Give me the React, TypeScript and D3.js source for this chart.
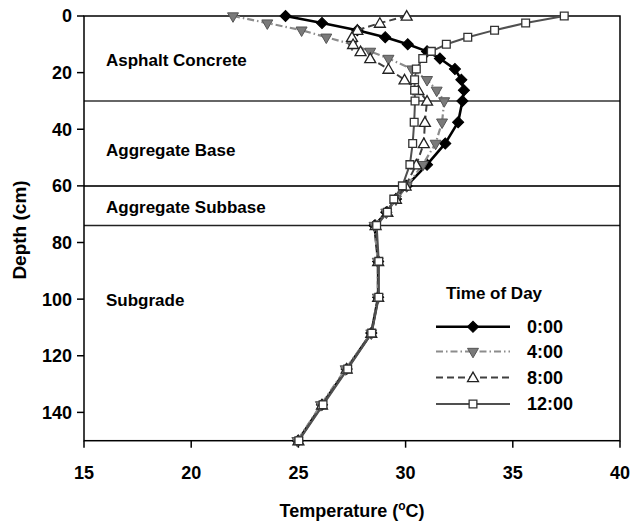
import React from "react";
import * as d3 from "d3";

// Depth nodes (cm) through the pavement profile
const DEPTHS = [
  0, 2.5, 5, 7.5, 10, 12.5, 15, 18.75, 22.5, 26.25, 30,
  37.5, 45, 52.5, 60,
  64.67, 69.33, 74,
  86.67, 99.33, 112, 124.67, 137.33, 150,
];

// Temperatures (°C) at each depth node, by time of day
const T_0000 = [
  24.4, 26.1, 27.75, 29.05, 30.1, 31.0, 31.6, 32.3, 32.6, 32.72, 32.65,
  32.45, 31.85, 31.0, 30.05,
  29.55, 29.1, 28.55,
  28.72, 28.72, 28.4, 27.25, 26.1, 24.98,
];
const T_0400 = [
  21.95, 23.55, 25.15, 26.3, 27.5, 28.35, 29.2, 30.3, 31.0, 31.45, 31.8,
  31.7, 31.4, 30.8, 30.05,
  29.55, 29.1, 28.55,
  28.7, 28.7, 28.4, 27.2, 26.05, 24.95,
];
const T_0800 = [
  30.05, 28.8, 27.75, 27.5, 27.55, 27.9, 28.35, 29.2, 29.95, 30.6, 31.0,
  30.9, 30.85, 30.5, 30.0,
  29.55, 29.15, 28.6,
  28.72, 28.72, 28.4, 27.25, 26.1, 25.0,
];
const T_1200 = [
  37.4, 35.6, 34.15, 32.9, 31.9, 31.2, 30.8, 30.5, 30.42, 30.42, 30.44,
  30.4, 30.33, 30.2, 29.85,
  29.45, 29.15, 28.65,
  28.75, 28.75, 28.42, 27.3, 26.15, 25.02,
];

const SERIES_NAMES = ["0:00", "4:00", "8:00", "12:00"];
const SERIES_VALUES = [T_0000, T_0400, T_0800, T_1200];

const X_TICKS = [15, 20, 25, 30, 35, 40];
const Y_TICKS = [0, 20, 40, 60, 80, 100, 120, 140];

// Layer boundaries (cm) and layer names
const LAYER_BOUNDS = [30, 60, 74];
const LAYER_NAMES = ["Asphalt Concrete", "Aggregate Base", "Aggregate Subbase", "Subgrade"];
const LAYER_LABEL_DEPTHS = [15.5, 47.5, 67.5, 100.5];

const W = 631;
const H = 522;
const LEFT = 84;
const RIGHT = 620;
const TOP = 16;
const BOTTOM = 440.7;

const FONT = "'Liberation Sans', Arial, Helvetica, sans-serif";

type Style = {
  stroke: string;
  width: number;
  dash?: string;
  marker: "diamond" | "tridown" | "triup" | "square";
};

const STYLES: Style[] = [
  { stroke: "#000", width: 2.6, marker: "diamond" },
  { stroke: "#8c8c8c", width: 2.2, dash: "7,3,1.5,3", marker: "tridown" },
  { stroke: "#404040", width: 2, dash: "7,4", marker: "triup" },
  { stroke: "#505050", width: 2, marker: "square" },
];

function Marker({ kind, x, y }: { kind: Style["marker"]; x: number; y: number }) {
  if (kind === "diamond") {
    const p = d3.symbol(d3.symbolSquare, 62)()!;
    return <path d={p} transform={`translate(${x},${y}) rotate(45)`} fill="#000" stroke="#000" strokeWidth={1} />;
  }
  if (kind === "tridown") {
    const p = d3.symbol(d3.symbolTriangle, 52)()!;
    return <path d={p} transform={`translate(${x},${y}) rotate(180)`} fill="#7a7a7a" stroke="#555" strokeWidth={1} />;
  }
  if (kind === "triup") {
    const p = d3.symbol(d3.symbolTriangle, 52)()!;
    return <path d={p} transform={`translate(${x},${y + 1})`} fill="#fff" stroke="#222" strokeWidth={1.3} />;
  }
  const p = d3.symbol(d3.symbolSquare, 60)()!;
  return <path d={p} transform={`translate(${x},${y})`} fill="#fff" stroke="#333" strokeWidth={1.3} />;
}

export default function App() {
  const x = d3.scaleLinear().domain([15, 40]).range([LEFT, RIGHT]);
  const y = d3.scaleLinear().domain([0, 150]).range([TOP, BOTTOM]);

  const line = d3
    .line<[number, number]>()
    .x((d) => x(d[0]))
    .y((d) => y(d[1]));

  const legendX0 = 436;
  const legendX1 = 510;
  const legendYs = [326.7, 351.5, 377.5, 404];

  return (
    <svg
      width={W}
      height={H}
      style={{ position: "absolute", left: 0, top: 0, background: "#fff" }}
      fontFamily={FONT}
    >
      <rect x={0} y={0} width={W} height={H} fill="#fff" />

      {/* layer boundaries */}
      {LAYER_BOUNDS.map((d, i) => (
        <line
          key={d}
          x1={LEFT}
          x2={RIGHT}
          y1={y(d)}
          y2={y(d)}
          stroke={i === 0 ? "#666" : i === 1 ? "#333" : "#222"}
          strokeWidth={i === 2 ? 1.5 : 2}
        />
      ))}

      {/* layer names */}
      {LAYER_NAMES.map((name, i) => (
        <text
          key={name}
          x={106}
          y={y(LAYER_LABEL_DEPTHS[i])}
          dy="0.35em"
          fontSize={17}
          fontWeight="bold"
          fill="#000"
        >
          {name}
        </text>
      ))}

      {/* plot frame */}
      <rect x={LEFT} y={TOP} width={RIGHT - LEFT} height={BOTTOM - TOP} fill="none" stroke="#000" strokeWidth={1.5} />

      {/* y axis ticks */}
      {Y_TICKS.map((t) => (
        <g key={t}>
          <line x1={LEFT - 7} x2={LEFT} y1={y(t)} y2={y(t)} stroke="#000" strokeWidth={1.5} />
          <text x={72} y={y(t)} dy="0.36em" textAnchor="end" fontSize={18} fontWeight="bold">
            {t}
          </text>
        </g>
      ))}

      {/* x axis ticks */}
      {X_TICKS.map((t) => (
        <g key={t}>
          <line x1={x(t)} x2={x(t)} y1={BOTTOM} y2={BOTTOM + 7} stroke="#000" strokeWidth={1.5} />
          <text x={x(t)} y={478.5} textAnchor="middle" fontSize={18} fontWeight="bold">
            {t}
          </text>
        </g>
      ))}

      {/* series */}
      {SERIES_VALUES.map((vals, si) => {
        const pts: [number, number][] = vals.map((v, i) => [v, DEPTHS[i]]);
        const st = STYLES[si];
        return (
          <g key={SERIES_NAMES[si]}>
            <path
              d={line(pts)!}
              fill="none"
              stroke={st.stroke}
              strokeWidth={st.width}
              strokeDasharray={st.dash}
              strokeLinejoin="round"
            />
            {pts.map((p, i) => (
              <Marker key={i} kind={st.marker} x={x(p[0])} y={y(p[1])} />
            ))}
          </g>
        );
      })}

      {/* legend */}
      <text x={446} y={293} dy="0.35em" fontSize={17} fontWeight="bold">
        Time of Day
      </text>
      {SERIES_NAMES.map((name, i) => {
        const st = STYLES[i];
        const ly = legendYs[i];
        return (
          <g key={name}>
            <line
              x1={legendX0}
              x2={legendX1}
              y1={ly}
              y2={ly}
              stroke={st.stroke}
              strokeWidth={st.width}
              strokeDasharray={st.dash}
            />
            <Marker kind={st.marker} x={(legendX0 + legendX1) / 2} y={ly} />
            <text x={527} y={ly} dy="0.36em" fontSize={18} fontWeight="bold">
              {name}
            </text>
          </g>
        );
      })}

      {/* axis titles */}
      <text
        transform={`translate(19,230) rotate(-90)`}
        textAnchor="middle"
        dy="0.35em"
        fontSize={19}
        fontWeight="bold"
      >
        Depth (cm)
      </text>
      <text x={352} y={517} textAnchor="middle" fontSize={18} fontWeight="bold">
        Temperature (<tspan dy={-7} fontSize={12}>o</tspan>
        <tspan dy={7}>C)</tspan>
      </text>
    </svg>
  );
}
